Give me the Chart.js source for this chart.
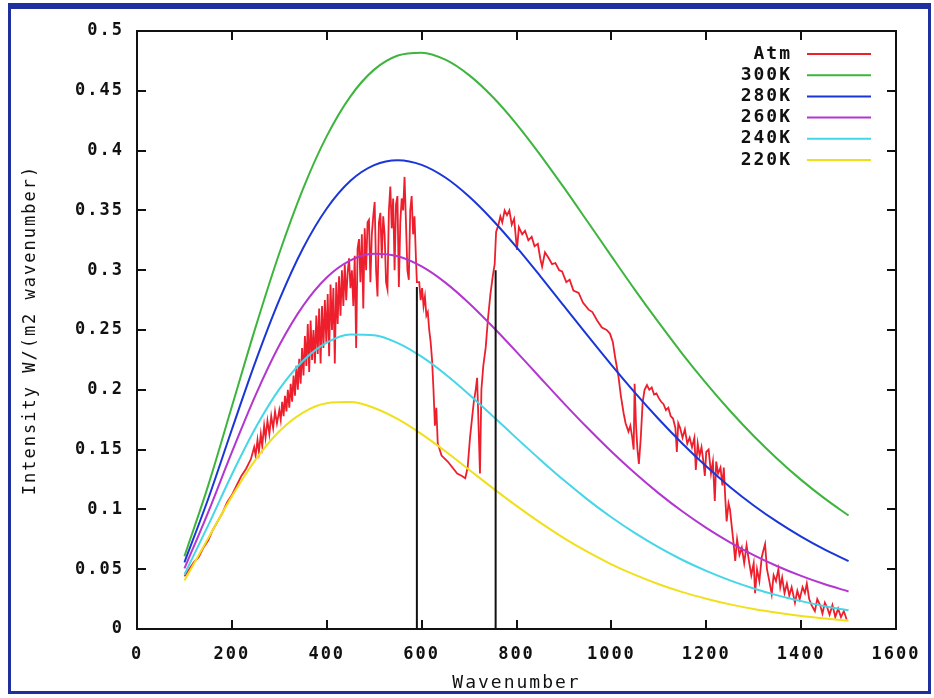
<!DOCTYPE html>
<html lang="en">
<head>
    <meta charset="UTF-8">
    <title>Atmospheric emission vs blackbody curves</title>
    <script src="https://cdn.jsdelivr.net/npm/chart.js"></script>
    <style>
        html, body {
            margin: 0;
            padding: 0;
            background: #fff;
        }

        .wrap {
            position: relative;
            width: 934px;
            height: 698px;
        }

        .frame {
            position: absolute;
            left: 8px;
            top: 3px;
            width: 917px;
            height: 682px;
            border: 3px solid #1f2f9e;
            border-top-width: 6px;
            pointer-events: none;
        }
    </style>
</head>
<body>
    <div class="wrap">
        <canvas id="spectrum" width="934" height="698"></canvas>
        <div class="frame"></div>
    </div>

    <script>
        // blackbody curves, sampled every 50 wavenumbers
        const wavenumbers = [100, 150, 200, 250, 300, 350, 400, 450, 500, 550, 600, 650, 700, 750, 800,
            850, 900, 950, 1000, 1050, 1100, 1150, 1200, 1250, 1300, 1350, 1400, 1450, 1500];
        const k300 = [0.0608, 0.1199, 0.1860, 0.2524, 0.3142, 0.3681, 0.4121, 0.4454, 0.4677, 0.4795, 0.4819, 0.4760, 0.4631, 0.4448, 0.4222,
            0.3965, 0.3690, 0.3405, 0.3118, 0.2834, 0.2561, 0.2299, 0.2054, 0.1825, 0.1614, 0.1422, 0.1247, 0.1090, 0.0949];
        const k280 = [0.0557, 0.1087, 0.1668, 0.2237, 0.2751, 0.3183, 0.3516, 0.3748, 0.3879, 0.3920, 0.3881, 0.3775, 0.3616, 0.3418, 0.3193,
            0.2951, 0.2701, 0.2452, 0.2208, 0.1974, 0.1754, 0.1549, 0.1360, 0.1188, 0.1033, 0.0895, 0.0772, 0.0663, 0.0568];
        const k260 = [0.0506, 0.0976, 0.1479, 0.1956, 0.2372, 0.2702, 0.2939, 0.3082, 0.3137, 0.3116, 0.3031, 0.2896, 0.2724, 0.2527, 0.2317,
            0.2101, 0.1887, 0.1680, 0.1484, 0.1302, 0.1134, 0.0982, 0.0846, 0.0725, 0.0618, 0.0525, 0.0444, 0.0374, 0.0314];
        const k240 = [0.0456, 0.0866, 0.1292, 0.1682, 0.2005, 0.2243, 0.2395, 0.2463, 0.2457, 0.2391, 0.2277, 0.2130, 0.1961, 0.1780, 0.1596,
            0.1416, 0.1243, 0.1082, 0.0934, 0.0801, 0.0682, 0.0577, 0.0486, 0.0407, 0.0339, 0.0281, 0.0233, 0.0191, 0.0157];
        const k220 = [0.0405, 0.0758, 0.1109, 0.1416, 0.1653, 0.1810, 0.1888, 0.1897, 0.1848, 0.1754, 0.1629, 0.1486, 0.1332, 0.1178, 0.1029,
            0.0889, 0.0760, 0.0644, 0.0541, 0.0452, 0.0374, 0.0308, 0.0253, 0.0206, 0.0167, 0.0135, 0.0108, 0.0087, 0.0069];

        // measured atmospheric spectrum, [wavenumber, intensity]
        const atmSpectrum = [
            [100, 0.044], [110, 0.050], [120, 0.056], [130, 0.060], [140, 0.068], [150, 0.074], [160, 0.083], [170, 0.090],
            [180, 0.097], [190, 0.106], [200, 0.112], [210, 0.120], [220, 0.128], [230, 0.134], [240, 0.142],
            [247, 0.152], [250, 0.145], [254, 0.158], [257, 0.148], [261, 0.163], [264, 0.153], [268, 0.170], [271, 0.160],
            [275, 0.174], [279, 0.163], [283, 0.178], [287, 0.168], [291, 0.182], [295, 0.172],
            [300, 0.183], [303, 0.175], [306, 0.190], [309, 0.178], [312, 0.195], [315, 0.182], [318, 0.200], [321, 0.185],
            [324, 0.205], [327, 0.190], [330, 0.212], [333, 0.195], [336, 0.220], [339, 0.200], [342, 0.226], [345, 0.205],
            [348, 0.235], [351, 0.212], [354, 0.245], [357, 0.220], [360, 0.255], [363, 0.215], [366, 0.258], [369, 0.225],
            [372, 0.250], [375, 0.222], [378, 0.262], [381, 0.230], [384, 0.268], [387, 0.222], [390, 0.270], [393, 0.235],
            [396, 0.275], [399, 0.240], [402, 0.280], [405, 0.228], [408, 0.288], [411, 0.250], [414, 0.285], [417, 0.222],
            [420, 0.290], [423, 0.255], [426, 0.295], [429, 0.262], [432, 0.300], [435, 0.270], [438, 0.305], [441, 0.275],
            [444, 0.298], [447, 0.310], [450, 0.285], [453, 0.300], [456, 0.270], [459, 0.312], [462, 0.235], [465, 0.318],
            [468, 0.326], [471, 0.290], [474, 0.330], [477, 0.268], [480, 0.335], [483, 0.300], [486, 0.340], [489, 0.342],
            [492, 0.290], [495, 0.330], [498, 0.345], [501, 0.357], [504, 0.300], [507, 0.278], [510, 0.340], [513, 0.348],
            [516, 0.310], [519, 0.345], [522, 0.330], [525, 0.290], [528, 0.284], [531, 0.350], [534, 0.370], [537, 0.335],
            [540, 0.360], [543, 0.300], [546, 0.355], [549, 0.362], [552, 0.286], [555, 0.340], [558, 0.360], [561, 0.350],
            [564, 0.378], [567, 0.340], [570, 0.300], [573, 0.292], [576, 0.350], [579, 0.362], [582, 0.330], [585, 0.345],
            [588, 0.310], [590, 0.290], [595, 0.290], [598, 0.275], [601, 0.285], [604, 0.270], [607, 0.278], [610, 0.262],
            [613, 0.265], [616, 0.250], [619, 0.240], [622, 0.225], [625, 0.200], [628, 0.170], [631, 0.185], [634, 0.155],
            [638, 0.150], [642, 0.145], [655, 0.140], [665, 0.135], [675, 0.130], [685, 0.128], [692, 0.126], [697, 0.135],
            [702, 0.160], [706, 0.175], [710, 0.190], [714, 0.200], [717, 0.210], [720, 0.170], [723, 0.130], [726, 0.200],
            [730, 0.220], [735, 0.235], [740, 0.260], [745, 0.280], [750, 0.295], [754, 0.305], [757, 0.332], [762, 0.338],
            [766, 0.345], [770, 0.340], [775, 0.350], [780, 0.346], [785, 0.350], [790, 0.338], [795, 0.343], [801, 0.317],
            [805, 0.336], [812, 0.330], [818, 0.333], [825, 0.325], [832, 0.328], [838, 0.320], [845, 0.322], [850, 0.310],
            [854, 0.303], [860, 0.315], [868, 0.310], [875, 0.305], [882, 0.306], [890, 0.300], [896, 0.299], [905, 0.290],
            [912, 0.292], [920, 0.283], [931, 0.281], [940, 0.273], [952, 0.267], [960, 0.265], [970, 0.258], [980, 0.252],
            [990, 0.250], [997, 0.247], [1003, 0.240], [1008, 0.227], [1015, 0.211], [1020, 0.195], [1026, 0.180], [1030, 0.172],
            [1036, 0.165], [1040, 0.170], [1044, 0.160], [1047, 0.150], [1049, 0.205], [1052, 0.170], [1055, 0.150], [1058, 0.138],
            [1062, 0.160], [1066, 0.190], [1070, 0.200], [1075, 0.204], [1080, 0.200], [1085, 0.202], [1090, 0.196], [1095, 0.197],
            [1100, 0.193], [1105, 0.190], [1110, 0.188], [1115, 0.183], [1120, 0.185], [1125, 0.178], [1130, 0.176], [1135, 0.168],
            [1138, 0.148], [1141, 0.172], [1145, 0.168], [1150, 0.160], [1155, 0.167], [1160, 0.155], [1165, 0.160], [1170, 0.152],
            [1175, 0.160], [1178, 0.133], [1182, 0.155], [1186, 0.145], [1190, 0.152], [1194, 0.140], [1197, 0.128], [1200, 0.148],
            [1205, 0.150], [1210, 0.130], [1214, 0.140], [1218, 0.107], [1221, 0.140], [1225, 0.130], [1230, 0.135], [1234, 0.120],
            [1237, 0.135], [1240, 0.110], [1243, 0.090], [1247, 0.105], [1250, 0.100], [1254, 0.085], [1258, 0.070], [1261, 0.057],
            [1265, 0.075], [1270, 0.062], [1275, 0.068], [1280, 0.055], [1285, 0.070], [1290, 0.057], [1295, 0.045], [1300, 0.055],
            [1303, 0.030], [1307, 0.050], [1312, 0.040], [1317, 0.060], [1320, 0.065], [1324, 0.071], [1328, 0.050], [1333, 0.040],
            [1338, 0.029], [1342, 0.045], [1347, 0.040], [1352, 0.050], [1356, 0.035], [1360, 0.043], [1365, 0.030], [1370, 0.038],
            [1375, 0.028], [1380, 0.035], [1387, 0.022], [1392, 0.032], [1397, 0.025], [1403, 0.035], [1408, 0.030], [1412, 0.038],
            [1417, 0.025], [1422, 0.020], [1429, 0.015], [1434, 0.025], [1440, 0.020], [1445, 0.013], [1450, 0.022], [1455, 0.018],
            [1460, 0.012], [1466, 0.020], [1472, 0.010], [1478, 0.017], [1484, 0.010], [1490, 0.015], [1496, 0.008]
        ];

        // the two black band-edge markers
        const edgeWavenumber = [590, 756];
        const edgeTop = [0.286, 0.300];

        const xTicks = [0, 200, 400, 600, 800, 1000, 1200, 1400, 1600];
        const yTicks = [0, 0.05, 0.1, 0.15, 0.2, 0.25, 0.3, 0.35, 0.4, 0.45, 0.5];

        const toPoints = (xs, ys) => xs.map((x, i) => ({ x: x, y: ys[i] }));

        function curve(label, values, color, order) {
            return {
                label: label,
                data: toPoints(wavenumbers, values),
                borderColor: color,
                borderWidth: 2,
                pointRadius: 0,
                cubicInterpolationMode: 'monotone',
                fill: false,
                order: order
            };
        }

        const datasets = [
            {
                label: 'Atm',
                data: atmSpectrum.map(p => ({ x: p[0], y: p[1] })),
                borderColor: '#ee1f2d',
                borderWidth: 1.8,
                pointRadius: 0,
                tension: 0,
                fill: false,
                order: 10
            },
            curve('300K', k300, '#3db53d', 5),
            curve('280K', k280, '#1a36d6', 4),
            curve('260K', k260, '#b236cf', 3),
            curve('240K', k240, '#45d6e8', 2),
            curve('220K', k220, '#f0e01c', 1)
        ];
        edgeWavenumber.forEach((w, i) => {
            datasets.push({
                label: '',
                data: [{ x: w, y: 0 }, { x: w, y: edgeTop[i] }],
                borderColor: '#111',
                borderWidth: 2,
                pointRadius: 0,
                order: 0,
                isEdge: true
            });
        });

        const MONO = "'DejaVu Sans Mono', 'Liberation Mono', monospace";
        const GAP = '2px';

        // gnuplot-like spaced lettering
        const spacing = {
            id: 'spacing',
            beforeUpdate(chart) { chart.ctx.letterSpacing = GAP; },
            beforeLayout(chart) { chart.ctx.letterSpacing = GAP; },
            beforeDraw(chart) {
                const ctx = chart.ctx;
                ctx.letterSpacing = GAP;
                ctx.save();
                ctx.fillStyle = '#fff';
                ctx.fillRect(0, 0, chart.width, chart.height);
                ctx.restore();
            }
        };

        // plot border, inward ticks on all four sides and the key
        const boxAndKey = {
            id: 'boxAndKey',
            afterDraw(chart) {
                const ctx = chart.ctx;
                const a = chart.chartArea;
                const xs = chart.scales.x, ys = chart.scales.y;
                const tick = 9;
                ctx.save();
                ctx.strokeStyle = '#111';
                ctx.lineWidth = 2;
                ctx.strokeRect(a.left, a.top, a.right - a.left, a.bottom - a.top);
                ctx.beginPath();
                xTicks.forEach(v => {
                    const px = Math.round(xs.getPixelForValue(v));
                    ctx.moveTo(px, a.bottom); ctx.lineTo(px, a.bottom - tick);
                    ctx.moveTo(px, a.top); ctx.lineTo(px, a.top + tick);
                });
                yTicks.forEach(v => {
                    const py = Math.round(ys.getPixelForValue(v));
                    ctx.moveTo(a.left, py); ctx.lineTo(a.left + tick, py);
                    ctx.moveTo(a.right, py); ctx.lineTo(a.right - tick, py);
                });
                ctx.stroke();

                // key
                ctx.font = 'bold 18px ' + MONO;
                ctx.letterSpacing = GAP;
                ctx.textAlign = 'right';
                ctx.textBaseline = 'middle';
                ctx.fillStyle = '#111';
                chart.data.datasets.filter(d => !d.isEdge).forEach((d, i) => {
                    const y = a.top + 23 + i * 21.2;
                    ctx.fillText(d.label, a.right - 104, y);
                    ctx.strokeStyle = d.borderColor;
                    ctx.lineWidth = 2;
                    ctx.beginPath();
                    ctx.moveTo(a.right - 89, y);
                    ctx.lineTo(a.right - 25, y);
                    ctx.stroke();
                });
                ctx.restore();
            }
        };

        new Chart(document.getElementById('spectrum'), {
            type: 'line',
            data: { datasets: datasets },
            options: {
                responsive: false,
                animation: false,
                devicePixelRatio: 1,
                layout: { padding: { top: 31, right: 38, left: 0, bottom: 0 } },
                plugins: {
                    legend: { display: false },
                    tooltip: { enabled: false }
                },
                scales: {
                    x: {
                        type: 'linear',
                        min: 0,
                        max: 1600,
                        afterBuildTicks: s => { s.ticks = xTicks.map(v => ({ value: v })); },
                        afterFit: s => { s.height = 69; },
                        grid: { display: false },
                        border: { display: false },
                        ticks: {
                            color: '#111',
                            padding: 7,
                            maxRotation: 0,
                            autoSkip: false,
                            callback: v => String(v),
                            font: { family: MONO, size: 17, weight: 'bold' }
                        },
                        title: {
                            display: true,
                            text: 'Wavenumber',
                            color: '#111',
                            padding: { bottom: 4, top: 0 },
                            font: { family: MONO, size: 18 }
                        }
                    },
                    y: {
                        min: 0,
                        max: 0.5,
                        afterBuildTicks: s => { s.ticks = yTicks.map(v => ({ value: v })); },
                        afterFit: s => { s.width = 137; },
                        grid: { display: false },
                        border: { display: false },
                        ticks: {
                            color: '#111',
                            padding: 5,
                            callback: v => String(+v.toFixed(2)),
                            font: { family: MONO, size: 17, weight: 'bold' }
                        },
                        title: {
                            display: true,
                            text: 'Intensity W/(m2 wavenumber)',
                            color: '#111',
                            padding: { top: 20, bottom: 0 },
                            font: { family: MONO, size: 17 }
                        }
                    }
                }
            },
            plugins: [spacing, boxAndKey]
        });
    </script>
</body>
</html>
